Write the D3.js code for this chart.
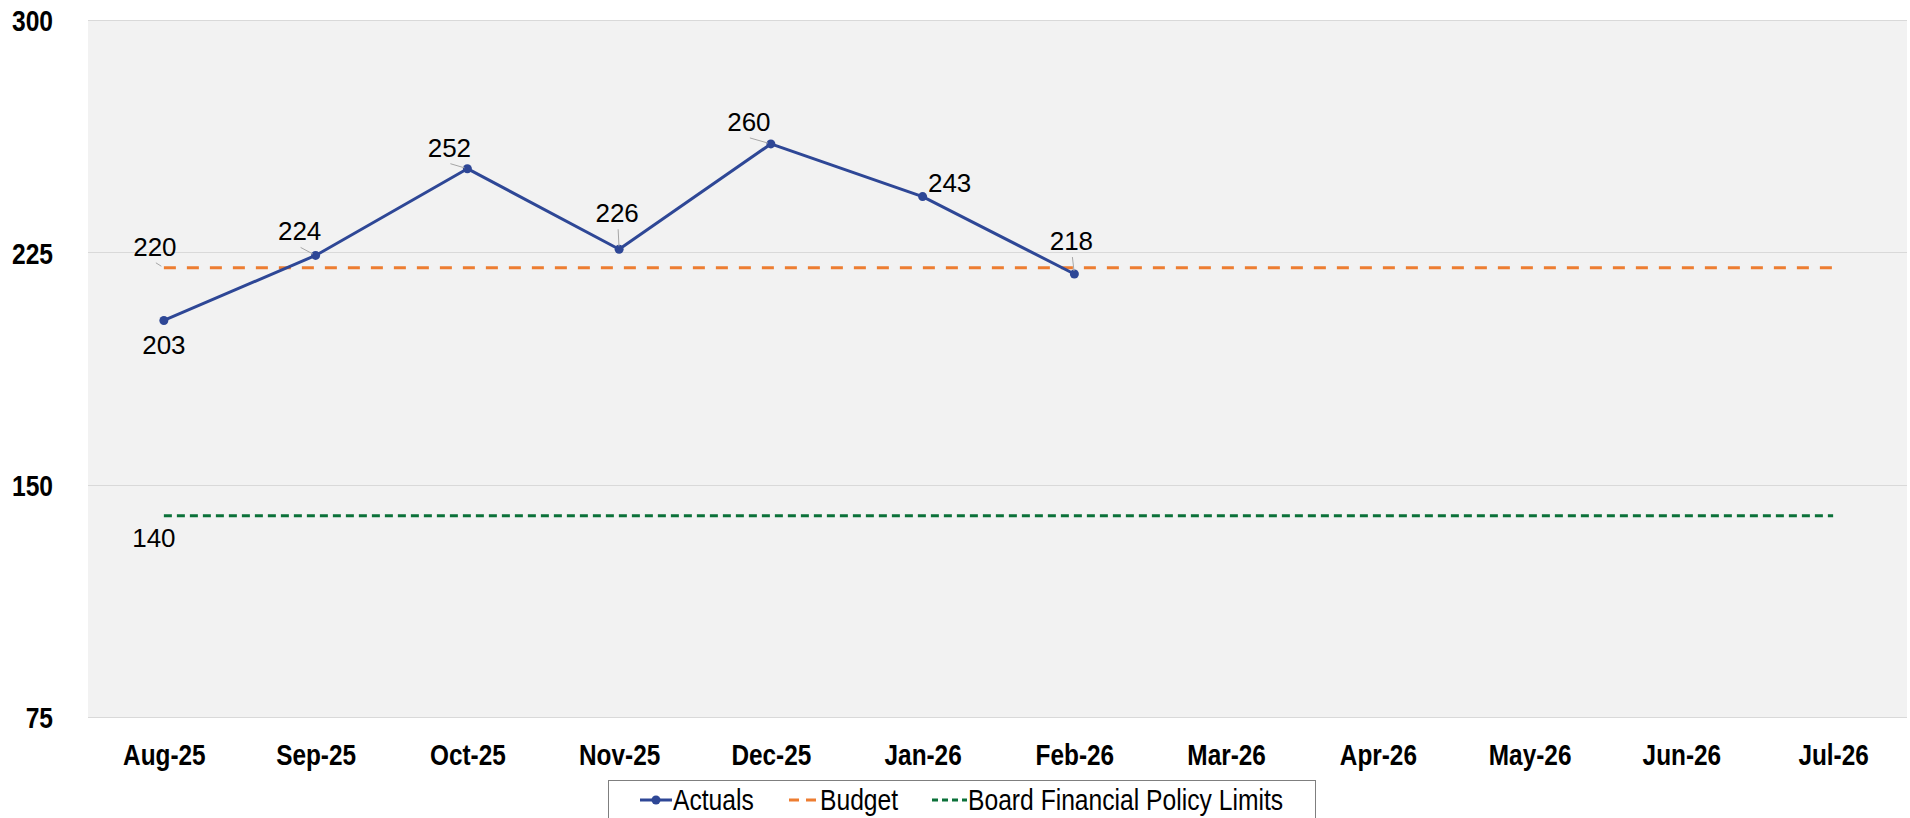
<!DOCTYPE html>
<html>
<head>
<meta charset="utf-8">
<script src="https://cdn.jsdelivr.net/npm/d3@7"></script>
<style>
  body { margin: 0; background: #fff; }
  svg { display: block; }
  .narrow { font-family: "Liberation Sans Narrow", "Arial Narrow", "Liberation Sans", Arial, sans-serif; }
  .lbl { font-family: "Liberation Sans", Arial, sans-serif; font-size: 26px; fill: #000; }
</style>
</head>
<body>
<div class="content"></div>
<script>
var months = ["Aug-25","Sep-25","Oct-25","Nov-25","Dec-25","Jan-26",
              "Feb-26","Mar-26","Apr-26","May-26","Jun-26","Jul-26"];
var actuals = [203, 224, 252, 226, 260, 243, 218];
var budget = 220;
var boardLimit = 140;
var yTicks = [75, 150, 225, 300];
var seriesNames = ["Actuals", "Budget", "Board Financial Policy Limits"];

// label placement for actuals: dx, dy from point to text (center / baseline), leader line?
var actualLabelPos = [[0,34,false],[-16,-15,true],[-18,-12,true],[-2,-27,true],
                      [-22,-13,true],[27,-5,false],[-3,-24,true]];

var W = 1910, H = 818;
var plotL = 88, plotR = 1909, plotT = 20, plotB = 717;
var blue = "#2E4796", orange = "#ED7D31", green = "#0B7139";

var svg = d3.select(".content")
  .append("svg")
  .attr("width", W)
  .attr("height", H)

var x = d3.scalePoint().domain(months).range([plotL, plotR]).padding(0.5);
var y = d3.scaleLinear().domain([75, 300]).range([plotB, plotT]);

// no narrow font installed -> squeeze the glyphs, then put them back where the anchor says
function condense(sel, f) {
  sel.each(function() {
    var t = d3.select(this);
    var b0 = this.getBBox();
    var anchor = getComputedStyle(this).textAnchor;
    var target = anchor == "end" ? b0.x + b0.width : anchor == "middle" ? b0.x + b0.width / 2 : b0.x;
    t.attr("textLength", b0.width * f).attr("lengthAdjust", "spacingAndGlyphs");
    var b1 = this.getBBox();
    var now = anchor == "end" ? b1.x + b1.width : anchor == "middle" ? b1.x + b1.width / 2 : b1.x;
    t.attr("x", (+t.attr("x") || 0) + (target - now));
  })
}

svg.append("rect")
  .attr("x", plotL).attr("y", plotT)
  .attr("width", 1907 - plotL).attr("height", plotB - plotT)
  .attr("fill", "#F2F2F2")

svg.selectAll(".grid")
  .data(yTicks)
  .enter()
  .append("line")
  .attr("x1", plotL).attr("x2", 1907)
  .attr("y1", function(d) { return Math.round(y(d)) + 0.5; })
  .attr("y2", function(d) { return Math.round(y(d)) + 0.5; })
  .attr("stroke", "#D9D9D9")
  .attr("stroke-width", 1)

// y axis labels
var yAxis = d3.axisLeft(y).tickValues(yTicks).tickSize(0).tickPadding(0);
var gy = svg.append("g").attr("transform", "translate(53,0)").call(yAxis);
gy.select(".domain").remove();
gy.selectAll("text")
  .attr("class", "narrow")
  .style("font-size", "30px")
  .style("font-weight", "bold")
  .attr("fill", "#000")
  .attr("x", 0)
  .attr("dy", "0.36em")
condense(gy.selectAll("text"), 0.82);

// x axis labels
var xAxis = d3.axisBottom(x).tickSize(0).tickPadding(0);
var gx = svg.append("g").attr("transform", "translate(0,765)").call(xAxis);
gx.select(".domain").remove();
gx.selectAll("text")
  .attr("class", "narrow")
  .style("font-size", "29px")
  .style("font-weight", "bold")
  .attr("fill", "#000")
  .attr("y", 0)
  .attr("dy", 0)
condense(gx.selectAll("text"), 0.84);

// reference lines
var x0 = x(months[0]), x1 = x(months[months.length - 1]);
svg.append("line")
  .attr("x1", x0).attr("x2", x1)
  .attr("y1", y(budget)).attr("y2", y(budget))
  .attr("stroke", orange).attr("stroke-width", 3)
  .attr("stroke-dasharray", "12,11")

svg.append("line")
  .attr("x1", x0).attr("x2", x1)
  .attr("y1", y(boardLimit)).attr("y2", y(boardLimit))
  .attr("stroke", green).attr("stroke-width", 3)
  .attr("stroke-dasharray", "8,5")

// actuals line
var line = d3.line()
  .x(function(d, i) { return x(months[i]); })
  .y(function(d) { return y(d); });

svg.append("path")
  .datum(actuals)
  .attr("d", line)
  .attr("fill", "none")
  .attr("stroke", blue)
  .attr("stroke-width", 3)
  .attr("stroke-linejoin", "round")

svg.selectAll(".pt")
  .data(actuals)
  .enter()
  .append("circle")
  .attr("cx", function(d, i) { return x(months[i]); })
  .attr("cy", function(d) { return y(d); })
  .attr("r", 4.5)
  .attr("fill", blue)

// leader lines + data labels
function leader(px, py, tx, ty) {
  var sx = tx + 1, sy = ty + 7;
  var ang = Math.atan2(py - sy, px - sx);
  svg.append("line")
    .attr("x1", sx).attr("y1", sy)
    .attr("x2", px - Math.cos(ang) * 3).attr("y2", py - Math.sin(ang) * 3)
    .attr("stroke", "#A6A6A6").attr("stroke-width", 1)
}

actuals.forEach(function(d, i) {
  var p = actualLabelPos[i];
  var px = x(months[i]), py = y(d);
  if (p[2]) leader(px, py, px + p[0], py + p[1]);
  svg.append("text")
    .attr("class", "lbl")
    .attr("x", px + p[0])
    .attr("y", py + p[1])
    .attr("text-anchor", "middle")
    .text(d)
})

leader(x0, y(budget), x0 - 9, y(budget) - 12);
svg.append("text").attr("class", "lbl")
  .attr("x", x0 - 9).attr("y", y(budget) - 12)
  .attr("text-anchor", "middle").text(budget)

svg.append("text").attr("class", "lbl")
  .attr("x", x0 - 10).attr("y", y(boardLimit) + 31)
  .attr("text-anchor", "middle").text(boardLimit)

// legend
var lg = svg.append("g");
lg.append("rect")
  .attr("x", 608.5).attr("y", 780.5)
  .attr("width", 707).attr("height", 50)
  .attr("fill", "#fff").attr("stroke", "#7F7F7F").attr("stroke-width", 1)

var ly = 800;
lg.append("line").attr("x1", 640).attr("x2", 672).attr("y1", ly).attr("y2", ly)
  .attr("stroke", blue).attr("stroke-width", 3)
lg.append("circle").attr("cx", 656).attr("cy", ly).attr("r", 4.5).attr("fill", blue)
lg.append("line").attr("x1", 789).attr("x2", 818).attr("y1", ly).attr("y2", ly)
  .attr("stroke", orange).attr("stroke-width", 3).attr("stroke-dasharray", "10,7")
lg.append("line").attr("x1", 932).attr("x2", 967).attr("y1", ly).attr("y2", ly)
  .attr("stroke", green).attr("stroke-width", 3).attr("stroke-dasharray", "6,4")

var legendX = [673, 820, 968];
var ltxt = lg.selectAll(".ltxt")
  .data(seriesNames)
  .enter()
  .append("text")
  .attr("class", "narrow")
  .attr("x", function(d, i) { return legendX[i]; })
  .attr("y", 810)
  .style("font-size", "29px")
  .attr("fill", "#000")
  .text(function(d) { return d; })
condense(ltxt, 0.85);
</script>
</body>
</html>
